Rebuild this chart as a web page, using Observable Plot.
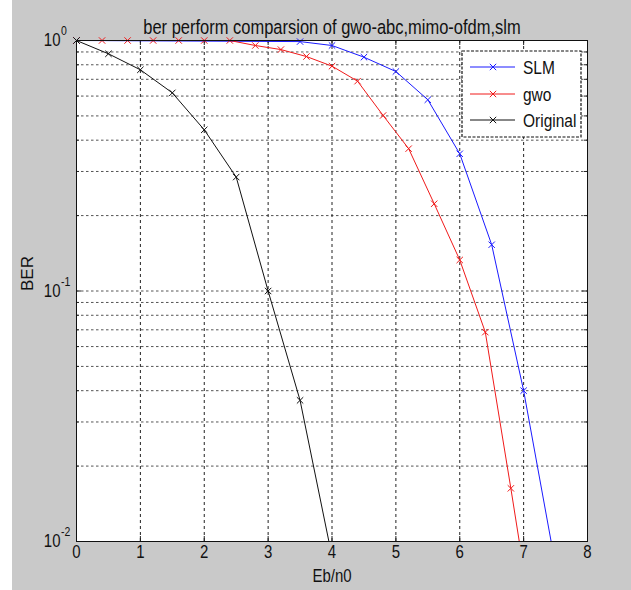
<!DOCTYPE html>
<html>
<head>
<meta charset="utf-8">
<script src="https://cdn.jsdelivr.net/npm/d3@7"></script>
<script src="https://cdn.jsdelivr.net/npm/@observablehq/plot@0.6"></script>
<style>
  html, body { margin: 0; padding: 0; background: #fff; }
  #chart svg { display: block; }
</style>
</head>
<body>
<div id="chart"></div>
<script>
// ---- data ----
const titleText = "ber perform comparsion of gwo-abc,mimo-ofdm,slm";
const xLabel = "Eb/n0";
const yLabel = "BER";
const xTicks = [0, 1, 2, 3, 4, 5, 6, 7, 8];
const xGrid = [1, 2, 3, 4, 5, 6, 7];
const yMajor = [1, 0.1, 0.01];
const yExp = ["0", "-1", "-2"];
const yMinor = [0.02, 0.03, 0.04, 0.05, 0.06, 0.07, 0.08, 0.09,
                0.2, 0.3, 0.4, 0.5, 0.6, 0.7, 0.8, 0.9];

const seriesNames = ["SLM", "gwo", "Original"];
const seriesColors = ["#1a1aff", "#f01a1a", "#111111"];

const slmX   = [0, 3.5, 4, 4.5, 5, 5.5, 6, 6.5, 7, 7.5];
const slmBER = [1, 0.99, 0.955, 0.858, 0.752, 0.58, 0.353, 0.153, 0.040, 0.008];

const gwoX   = [0, 0.4, 0.8, 1.2, 1.6, 2.0, 2.4, 2.8, 3.2, 3.6, 4.0, 4.4, 4.8, 5.2, 5.6, 6.0, 6.4, 6.8, 7.2];
const gwoBER = [1, 1, 1, 1, 1, 1, 1, 0.955, 0.92, 0.863, 0.79, 0.688, 0.502, 0.37, 0.223, 0.133, 0.0685, 0.0163, 0.0037];

const origX   = [0, 0.5, 1, 1.5, 2, 2.5, 3, 3.5, 4];
const origBER = [1, 0.885, 0.764, 0.618, 0.44, 0.285, 0.1, 0.0366, 0.0087];

// ---- table built from the arrays ----
const xs = [slmX, gwoX, origX];
const ys = [slmBER, gwoBER, origBER];
const data = seriesNames.flatMap((name, i) =>
  xs[i].map((x, j) => ({series: name, x, y: ys[i][j]})));

const font = "'Liberation Sans', Arial, Helvetica, sans-serif";
const color = {domain: seriesNames, range: seriesColors};

const chart = Plot.plot({
  width: 631,
  height: 590,
  marginTop: 40,
  marginLeft: 76,
  marginRight: 44,
  marginBottom: 49,
  style: {
    background: "linear-gradient(to right, #ffffff 12px, #c9c9c9 12px)",
    fontFamily: font,
    color: "#111"
  },
  x: {domain: [0, 8], axis: null},
  y: {type: "log", domain: [0.01, 1], axis: null},
  color,
  marks: [
    Plot.frame({fill: "white", stroke: "none"}),
    // grid
    Plot.ruleY(yMinor.concat([0.1]), {stroke: "#555", strokeWidth: 1, strokeDasharray: "2.5,2.5"}),
    Plot.ruleX(xGrid, {stroke: "#222", strokeWidth: 1, strokeDasharray: "3,3"}),
    // inward ticks
    Plot.ruleX(xTicks, {insetTop: 496, stroke: "#222"}),
    Plot.ruleX(xTicks, {insetBottom: 496, stroke: "#222"}),
    Plot.ruleY(yMajor, {insetRight: 506, stroke: "#222"}),
    Plot.ruleY(yMajor, {insetLeft: 506, stroke: "#222"}),
    Plot.ruleY(yMinor, {insetRight: 508, stroke: "#222"}),
    Plot.ruleY(yMinor, {insetLeft: 508, stroke: "#222"}),
    // series
    Plot.line(data, {x: "x", y: "y", z: "series", stroke: "series", strokeWidth: 1, clip: true}),
    Plot.dot(data, {filter: d => d.y >= 0.01, x: "x", y: "y", stroke: "series",
                    symbol: "times", r: 3, strokeWidth: 1}),
    Plot.frame({stroke: "#111", strokeWidth: 1}),
    // tick labels
    Plot.text(xTicks, {x: d => d, frameAnchor: "bottom", dy: 16, fontSize: 15, fill: "#111"}),
    Plot.text(yMajor, {y: d => d, frameAnchor: "left", dx: -16, textAnchor: "end",
                       text: () => "10", fontSize: 15, fill: "#111"}),
    Plot.text(yMajor, {y: d => d, frameAnchor: "left", dx: -15.5, dy: -9, textAnchor: "start",
                       text: (d, i) => yExp[i], fontSize: 10.5, fill: "#111"}),
    // labels
    Plot.text([xLabel], {frameAnchor: "bottom", dy: 40, fontSize: 15, fill: "#111"}),
    Plot.text([yLabel], {frameAnchor: "left", dx: -49, rotate: -90, fontSize: 17, fill: "#111"}),
    Plot.text([titleText], {frameAnchor: "top", dy: -20, fontSize: 16.5, fill: "#111"})
  ]
});

// ---- legend (MATLAB-style box, top right inside axes) ----
const svg = d3.select(chart);
const lg = svg.append("g").attr("font-family", font).attr("font-size", 15.5)
  .attr("text-anchor", "start");
lg.append("rect").attr("x", 462).attr("y", 51).attr("width", 119).attr("height", 86)
  .attr("fill", "white").attr("stroke", "#111").attr("stroke-width", 1.2)
  .attr("stroke-dasharray", "3,1.5");
const rowY = [67, 94, 120];
seriesNames.forEach((name, i) => {
  const y = rowY[i];
  lg.append("line").attr("x1", 470).attr("x2", 515).attr("y1", y).attr("y2", y)
    .attr("stroke", seriesColors[i]).attr("stroke-width", 1);
  lg.append("path").attr("transform", `translate(493,${y})`)
    .attr("d", d3.symbol(d3.symbolTimes, 28)())
    .attr("fill", "none").attr("stroke", seriesColors[i]).attr("stroke-width", 1);
  lg.append("text").attr("transform", `translate(523,${y})`).attr("dy", "0.36em")
    .attr("text-anchor", "start").attr("fill", "#111").text(name);
});

// the reference glyphs are drawn taller than they are wide: stretch upright text vertically
svg.selectAll("text").each(function() {
  const t = this.getAttribute("transform") || "";
  if (t.includes("rotate")) return;
  this.setAttribute("transform", t + " scale(1,1.18)");
});

document.getElementById("chart").appendChild(chart);
</script>
</body>
</html>
